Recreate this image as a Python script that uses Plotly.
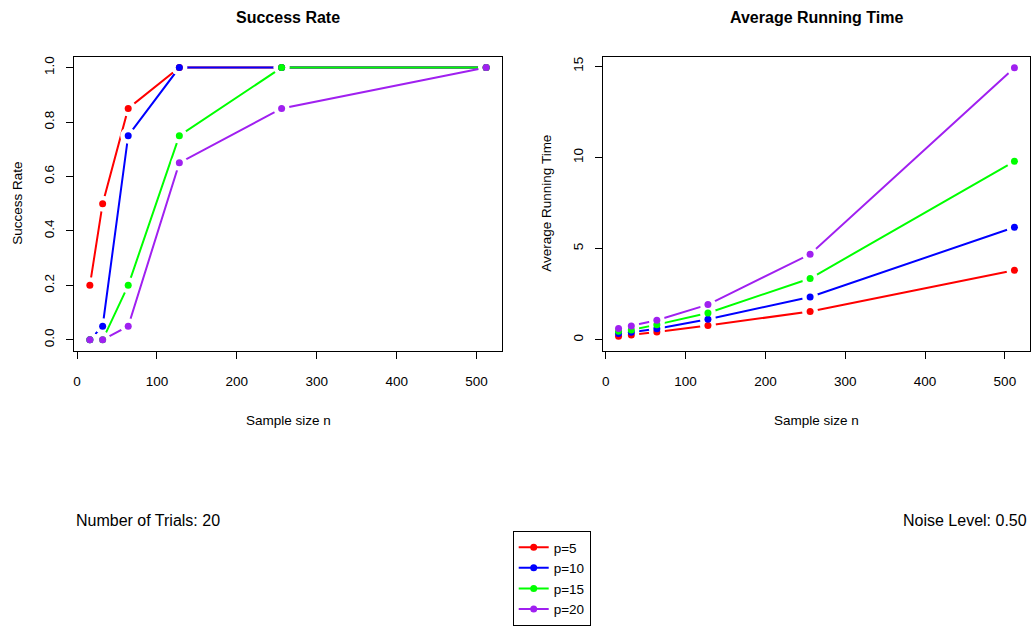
import plotly.graph_objects as go

# ---- data ----
sample_sizes = [16, 32, 64, 128, 256, 512]
series_names = ["p=5", "p=10", "p=15", "p=20"]
series_colors = ["#FF0000", "#0000FF", "#00FF00", "#A020F0"]

success_p5 = [0.20, 0.50, 0.85, 1.00, 1.00, 1.00]
success_p10 = [0.00, 0.05, 0.75, 1.00, 1.00, 1.00]
success_p15 = [0.00, 0.00, 0.20, 0.75, 1.00, 1.00]
success_p20 = [0.00, 0.00, 0.05, 0.65, 0.85, 1.00]

time_p5 = [0.19, 0.26, 0.43, 0.78, 1.55, 3.81]
time_p10 = [0.34, 0.41, 0.61, 1.13, 2.35, 6.17]
time_p15 = [0.47, 0.54, 0.83, 1.47, 3.36, 9.79]
time_p20 = [0.62, 0.76, 1.07, 1.93, 4.69, 14.92]

success_ticks = [0.0, 0.2, 0.4, 0.6, 0.8, 1.0]
success_ticklabels = ["0.0", "0.2", "0.4", "0.6", "0.8", "1.0"]
time_ticks = [0, 5, 10, 15]
x_ticks = [0, 100, 200, 300, 400, 500]

success_series = [success_p5, success_p10, success_p15, success_p20]
time_series = [time_p5, time_p10, time_p15, time_p20]

FONT = "Liberation Sans, Arial, Helvetica, sans-serif"
W, H = 1032, 629

fig = go.Figure()

# layer 1: lines with white "gap" markers (R type='b')
for axes, data in (("1", success_series), ("2", time_series)):
    xa = "x" if axes == "1" else "x2"
    ya = "y" if axes == "1" else "y2"
    for vals, col in zip(data, series_colors):
        fig.add_trace(go.Scatter(
            x=sample_sizes, y=vals, mode="lines+markers", xaxis=xa, yaxis=ya,
            line=dict(color=col, width=2),
            marker=dict(color="white", size=16, line=dict(width=0)),
            showlegend=False, hoverinfo="skip"))

# layer 2: coloured points
for axes, data in (("1", success_series), ("2", time_series)):
    xa = "x" if axes == "1" else "x2"
    ya = "y" if axes == "1" else "y2"
    for vals, col, name in zip(data, series_colors, series_names):
        fig.add_trace(go.Scatter(
            x=sample_sizes, y=vals, mode="markers", xaxis=xa, yaxis=ya,
            marker=dict(color=col, size=7, line=dict(width=0)),
            name=name, showlegend=False))

# legend entries
for col, name in zip(series_colors, series_names):
    fig.add_trace(go.Scatter(
        x=[None], y=[None], mode="lines+markers", name=name,
        line=dict(color=col, width=2), marker=dict(color=col, size=7)))

ydom = [1 - 350.7 / H, 1 - 56.7 / H]
common_axis = dict(showline=True, linecolor="black", linewidth=1, mirror=True,
                   ticks="outside", ticklen=7, tickcolor="black", tickwidth=1,
                   showgrid=False, zeroline=False,
                   tickfont=dict(family=FONT, size=13.5, color="black"))

fig.update_layout(
    width=W, height=H, autosize=False,
    margin=dict(l=0, r=0, t=0, b=0),
    paper_bgcolor="white", plot_bgcolor="white",
    font=dict(family=FONT, color="black"),
    xaxis=dict(domain=[74 / W, 502 / W], range=[-3.84, 531.84],
               tickvals=x_ticks, anchor="y", ticklabelstandoff=11, **common_axis),
    yaxis=dict(domain=ydom, range=[-0.04, 1.04], tickvals=success_ticks,
               ticktext=success_ticklabels, tickangle=-90, anchor="x",
               ticklabelstandoff=7, **common_axis),
    xaxis2=dict(domain=[602.7 / W, 1030.3 / W], range=[-3.84, 531.84],
                tickvals=x_ticks, anchor="y2", ticklabelstandoff=11, **common_axis),
    yaxis2=dict(domain=ydom, range=[-0.6, 15.53], tickvals=time_ticks,
                tickangle=-90, anchor="x2", ticklabelstandoff=6, **common_axis),
    showlegend=True,
    legend=dict(x=512.7 / W, y=1 - 531 / H, xanchor="left", yanchor="top",
                bordercolor="black", borderwidth=1, bgcolor="white",
                font=dict(family=FONT, size=13.5, color="black"),
                tracegroupgap=0, itemwidth=30),
)

ann = [
    dict(text="<b>Success Rate</b>", x=288 / W, y=1 - 17.5 / H, size=16),
    dict(text="<b>Average Running Time</b>", x=816.5 / W, y=1 - 17.5 / H, size=16),
    dict(text="Sample size n", x=288 / W, y=1 - 420 / H, size=13.5),
    dict(text="Sample size n", x=816.5 / W, y=1 - 420 / H, size=13.5),
]
for a in ann:
    fig.add_annotation(text=a["text"], x=a["x"], y=a["y"], xref="paper", yref="paper",
                       showarrow=False, xanchor="center", yanchor="middle",
                       font=dict(family=FONT, size=a["size"], color="black"))

for txt, xp in (("Success Rate", 18), ("Average Running Time", 547)):
    fig.add_annotation(text=txt, x=xp / W, y=1 - 203.7 / H, xref="paper", yref="paper",
                       showarrow=False, textangle=-90, xanchor="center", yanchor="middle",
                       font=dict(family=FONT, size=13.5, color="black"))

fig.add_annotation(text="Number of Trials: 20", x=74 / W, y=1 - 520 / H,
                   xref="paper", yref="paper", showarrow=False,
                   xanchor="left", yanchor="middle",
                   font=dict(family=FONT, size=16, color="black"))
fig.add_annotation(text="Noise Level: 0.50", x=1029 / W, y=1 - 520 / H,
                   xref="paper", yref="paper", showarrow=False,
                   xanchor="right", yanchor="middle",
                   font=dict(family=FONT, size=16, color="black"))

fig.write_html("out.html")
